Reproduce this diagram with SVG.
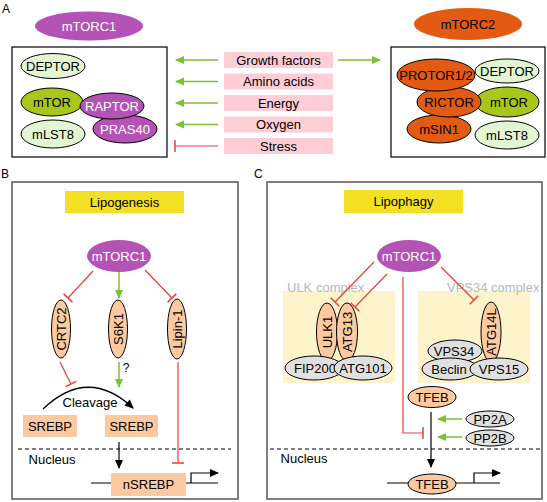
<svg xmlns="http://www.w3.org/2000/svg" width="547" height="502" viewBox="0 0 547 502">
<style>
.t{font-family:"Liberation Sans",Arial,sans-serif;font-size:13px;text-anchor:middle;fill:#000}
.w{fill:#fff}
.lab{font-family:"Liberation Sans",Arial,sans-serif;font-size:12px;fill:#000}
.gt{font-family:"Liberation Sans",Arial,sans-serif;font-size:13px;fill:#b8b8b8}
.e{stroke:#000;stroke-width:1}
.pur{fill:#b552b5}
.org{fill:#e35a12}
.lg{fill:#e3f5d1}
.mt{fill:#a8c61c}
.pch{fill:#fcc9a0}
.gry{fill:#e0e0e0}
.pink{fill:#ffcdd6}
.yel{fill:#f3e024}
.ly{fill:#fdf4cc}
.g{stroke:#7ac231;stroke-width:1.5;fill:none;marker-end:url(#ag)}
.r{stroke:#e5413b;stroke-width:1.2;fill:none;marker-end:url(#tb)}
.k{stroke:#000;stroke-width:1.2;fill:none}
.ka{stroke:#000;stroke-width:1.2;fill:none;marker-end:url(#ak)}
.panel{fill:#fff;stroke:#555;stroke-width:1.5}
.box{fill:#fff;stroke:#000;stroke-width:1.2}
</style>
<defs>
<marker id="ag" viewBox="-10 -5 11 10" refX="0" refY="0" markerWidth="11" markerHeight="10" markerUnits="userSpaceOnUse" orient="auto">
<path d="M1,0 L-8,-4 L-8,4 Z" fill="#7ac231"/>
</marker>
<marker id="ak" viewBox="-10 -5 11 10" refX="0" refY="0" markerWidth="11" markerHeight="10" markerUnits="userSpaceOnUse" orient="auto">
<path d="M1,0 L-8,-4 L-8,4 Z" fill="#000"/>
</marker>
<marker id="tb" viewBox="-2 -7 4 14" refX="0" refY="0" markerWidth="4" markerHeight="14" markerUnits="userSpaceOnUse" orient="auto">
<path d="M0,-6 V6" stroke="#e5413b" stroke-width="1.5"/>
</marker>
</defs>
<rect width="547" height="502" fill="#fff"/>

<!-- Panel labels -->
<text class="lab" x="2" y="13">A</text>
<text class="lab" x="1" y="178">B</text>
<text class="lab" x="254" y="178">C</text>

<!-- Panel A -->
<g id="mtorc1-title"><ellipse class="pur" cx="89" cy="26" rx="54" ry="14.5"/><text class="t w" x="89" y="30.5">mTORC1</text></g>
<g id="mtorc2-title"><ellipse class="org" cx="468" cy="24" rx="54" ry="16"/><text class="t" x="468" y="28.5">mTORC2</text></g>

<g id="mtorc1-box">
<rect class="box" x="12" y="47" width="155" height="110"/>
<g id="a1-deptor"><ellipse class="e lg" cx="53" cy="66" rx="32" ry="12.5"/><text class="t" x="53" y="70.5">DEPTOR</text></g>
<g id="a1-mlst8"><ellipse class="e lg" cx="53" cy="134" rx="32" ry="14"/><text class="t" x="53" y="138.5">mLST8</text></g>
<g id="a1-pras40"><ellipse class="e pur" cx="125" cy="129" rx="32" ry="14"/><text class="t w" x="125" y="133.5">PRAS40</text></g>
<g id="a1-mtor"><ellipse class="e mt" cx="52" cy="102" rx="31" ry="14"/><text class="t" x="52" y="106.5">mTOR</text></g>
<g id="a1-raptor"><ellipse class="e pur" cx="112" cy="106" rx="32" ry="13"/><text class="t w" x="112" y="110.5">RAPTOR</text></g>
</g>

<g id="mtorc2-box">
<rect class="box" x="391" y="47" width="154" height="110"/>
<g id="a2-msin1"><ellipse class="e org" cx="439" cy="129" rx="32" ry="14"/><text class="t" x="439" y="133.5">mSIN1</text></g>
<g id="a2-deptor"><ellipse class="e lg" cx="507" cy="71" rx="32" ry="12"/><text class="t" x="507" y="75.5">DEPTOR</text></g>
<g id="a2-mtor"><ellipse class="e mt" cx="507" cy="102" rx="32" ry="15"/><text class="t" x="509" y="106.5">mTOR</text></g>
<g id="a2-mlst8"><ellipse class="e lg" cx="507" cy="135" rx="32" ry="14"/><text class="t" x="507" y="139.5">mLST8</text></g>
<g id="a2-rictor"><ellipse class="e org" cx="449" cy="102" rx="32" ry="15"/><text class="t" x="449" y="106.5">RICTOR</text></g>
<g id="a2-protor"><ellipse class="e org" cx="436" cy="75" rx="39" ry="16"/><text class="t" x="436" y="79.5">PROTOR1/2</text></g>
</g>

<g id="signals">
<g id="s-growth"><rect class="pink" x="224" y="52" width="109" height="16"/><text class="t" x="278.5" y="64.5">Growth factors</text></g>
<g id="s-amino"><rect class="pink" x="224" y="73.5" width="109" height="16"/><text class="t" x="278.5" y="86">Amino acids</text></g>
<g id="s-energy"><rect class="pink" x="224" y="95" width="109" height="16"/><text class="t" x="278.5" y="107.5">Energy</text></g>
<g id="s-oxygen"><rect class="pink" x="224" y="116.5" width="109" height="16"/><text class="t" x="278.5" y="129">Oxygen</text></g>
<g id="s-stress"><rect class="pink" x="224" y="138" width="109" height="16"/><text class="t" x="278.5" y="150.5">Stress</text></g>
</g>

<!-- Panel B -->
<rect class="panel" x="12" y="182" width="226" height="317"/>
<g id="b-title"><rect class="yel" x="65" y="191" width="119" height="22"/><text class="t" x="124.5" y="206.5">Lipogenesis</text></g>
<g id="b-mtorc1"><ellipse class="pur" cx="119" cy="256" rx="32" ry="16"/><text class="t w" x="119" y="260.5">mTORC1</text></g>
<g id="b-crtc2"><ellipse class="e pch" cx="61" cy="329" rx="9.5" ry="29"/><text class="t" transform="translate(61,329) rotate(-90)" y="4.5">CRTC2</text></g>
<g id="b-s6k1"><ellipse class="e pch" cx="118" cy="329" rx="9.5" ry="29"/><text class="t" transform="translate(118,329) rotate(-90)" y="4.5">S6K1</text></g>
<g id="b-lipin1"><ellipse class="e pch" cx="177" cy="329" rx="9.5" ry="30"/><text class="t" transform="translate(177,329) rotate(-90)" y="4.5">Lipin-1</text></g>
<g id="b-srebp1"><rect class="pch" x="23" y="415" width="54" height="22"/><text class="t" x="50" y="430.5">SREBP</text></g>
<g id="b-srebp2"><rect class="pch" x="105" y="415" width="53" height="22"/><text class="t" x="131.5" y="430.5">SREBP</text></g>
<text class="t" x="90" y="407">Cleavage</text>
<text class="t" x="126" y="372" style="font-size:12px;fill:#000">?</text>
<line x1="18" y1="449" x2="231" y2="449" stroke="#000" stroke-width="1" stroke-dasharray="4,3"/>
<text class="t" x="52" y="464">Nucleus</text>
<path class="k" d="M91,483 H218"/>
<g id="b-nsrebp"><rect class="pch" x="111" y="473" width="75" height="23"/><text class="t" x="148.5" y="489">nSREBP</text></g>

<!-- Panel C -->
<rect class="panel" x="267" y="182" width="275" height="317"/>
<g id="c-title"><rect class="yel" x="344" y="190" width="119" height="23"/><text class="t" x="403.5" y="206">Lipophagy</text></g>
<rect class="ly" x="283" y="291" width="112" height="92"/>
<rect class="ly" x="418" y="291" width="112" height="92"/>
<text class="gt" x="287" y="292">ULK complex</text>
<text class="gt" x="447" y="292">VPS34 complex</text>
<g id="c-mtorc1"><ellipse class="pur" cx="409" cy="256" rx="32" ry="16"/><text class="t w" x="409" y="260.5">mTORC1</text></g>
<g id="c-ulk1"><ellipse class="e pch" cx="327" cy="332" rx="10.5" ry="29"/><text class="t" transform="translate(327,332) rotate(-90)" y="4.5">ULK1</text></g>
<g id="c-atg13"><ellipse class="e pch" cx="347" cy="332" rx="10.5" ry="29"/><text class="t" transform="translate(347,332) rotate(-90)" y="4.5">ATG13</text></g>
<g id="c-fip200"><ellipse class="e gry" cx="314" cy="368" rx="29" ry="12"/><text class="t" x="315" y="372.5">FIP200</text></g>
<g id="c-atg101"><ellipse class="e gry" cx="363" cy="368" rx="29" ry="12"/><text class="t" x="363" y="372.5">ATG101</text></g>
<g id="c-vps34"><ellipse class="e gry" cx="455" cy="351" rx="27" ry="11"/><text class="t" x="454" y="355.5">VPS34</text></g>
<g id="c-beclin"><ellipse class="e gry" cx="450" cy="369" rx="28" ry="11"/><text class="t" x="449" y="373.5">Beclin</text></g>
<g id="c-atg14l"><ellipse class="e pch" cx="491" cy="332" rx="10" ry="30"/><text class="t" transform="translate(491,332) rotate(-90)" y="4.5">ATG14L</text></g>
<g id="c-vps15"><ellipse class="e gry" cx="499" cy="369" rx="29" ry="11"/><text class="t" x="499" y="373.5">VPS15</text></g>
<g id="c-tfeb1"><ellipse class="e pch" cx="432" cy="397" rx="24" ry="10.5"/><text class="t" x="432" y="401.5">TFEB</text></g>
<g id="c-pp2a"><ellipse class="e gry" cx="490" cy="419" rx="24" ry="8"/><text class="t" x="490" y="423.5">PP2A</text></g>
<g id="c-pp2b"><ellipse class="e gry" cx="490" cy="438" rx="24" ry="8"/><text class="t" x="490" y="442.5">PP2B</text></g>
<line x1="270" y1="449" x2="540" y2="449" stroke="#000" stroke-width="1" stroke-dasharray="4,3"/>
<text class="t" x="304" y="463">Nucleus</text>
<path class="k" d="M387,483 H500"/>
<g id="c-tfeb2"><ellipse class="e pch" cx="432" cy="484" rx="24" ry="10"/><text class="t" x="432" y="488.5">TFEB</text></g>

<!-- Connectors -->
<g id="connectors">
<line class="g" x1="218" y1="60" x2="176" y2="60"/>
<line class="g" x1="218" y1="81.5" x2="176" y2="81.5"/>
<line class="g" x1="218" y1="103" x2="176" y2="103"/>
<line class="g" x1="218" y1="124.5" x2="176" y2="124.5"/>
<line class="r" x1="218" y1="146" x2="175" y2="146"/>
<line class="g" x1="338" y1="60" x2="380" y2="60"/>

<line class="r" x1="93" y1="271" x2="68" y2="298"/>
<line class="g" x1="119" y1="272" x2="119" y2="298"/>
<line class="r" x1="145" y1="270" x2="172" y2="298"/>
<line class="r" x1="60" y1="362" x2="71" y2="384"/>
<line class="g" x1="119" y1="362" x2="119" y2="387"/>
<path class="ka" d="M43,409 Q88,366 133,408"/>
<line class="ka" x1="119" y1="442" x2="119" y2="468"/>
<line class="r" x1="178" y1="362" x2="178" y2="463"/>
<path class="ka" d="M191,483 V473 H218"/>

<line class="r" x1="374" y1="262" x2="335" y2="302"/>
<line class="r" x1="387" y1="274" x2="355" y2="307"/>
<path class="r" d="M403,277 V433 H423"/>
<line class="r" x1="441" y1="267" x2="474" y2="300"/>
<line class="ka" x1="431" y1="412" x2="431" y2="467"/>
<line class="g" x1="462" y1="419" x2="438" y2="419"/>
<line class="g" x1="462" y1="437" x2="438" y2="437"/>
<path class="ka" d="M474,483 V473 H500"/>
</g>
</svg>
